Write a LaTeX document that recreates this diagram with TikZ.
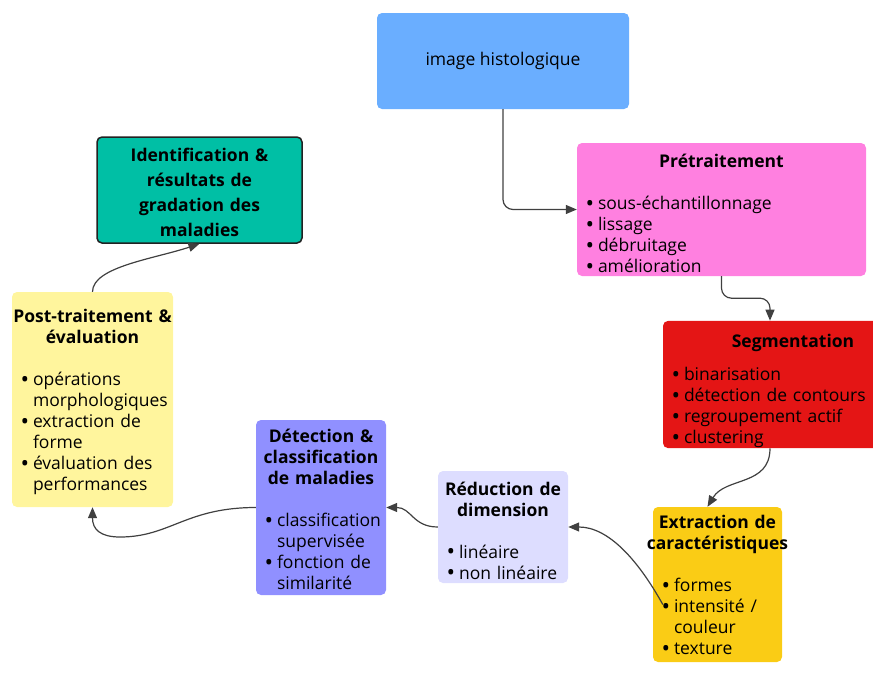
\documentclass[tikz,border=0pt]{standalone}
\usepackage{fontspec}
\setmainfont{Open Sans}
\usetikzlibrary{arrows.meta}
\definecolor{imgblue}{RGB}{106,174,255}
\definecolor{prepink}{RGB}{255,128,224}
\definecolor{segred}{RGB}{228,21,21}
\definecolor{extyellow}{RGB}{250,204,21}
\definecolor{redlav}{RGB}{221,221,255}
\definecolor{detpurple}{RGB}{144,144,255}
\definecolor{postyellow}{RGB}{255,245,157}
\definecolor{identteal}{RGB}{0,191,165}
\definecolor{edgegray}{RGB}{34,34,34}
\definecolor{arrgray}{RGB}{64,64,64}
\newcommand{\bul}[1]{\makebox[11pt][l]{\hspace*{-1.5pt}\raisebox{-0.12ex}{\scalebox{1.3}{\textbullet}}}\mbox{#1}}
\newcommand{\cnt}[1]{\hspace*{11pt}\mbox{#1}}
\newcommand{\ttl}[1]{\makebox[\linewidth][c]{\bfseries #1}}
\newcommand{\padtop}[1]{\rule{0pt}{#1}}
\tikzset{
  box/.style  = {rectangle, rounded corners=5pt, inner xsep=10pt, inner ysep=0pt,
                 align=left, font=\fontsize{17.5}{21}\selectfont},
  arr/.style  = {-{Triangle[length=11pt,width=9pt]}, line width=1.2pt, draw=arrgray}
}

\begin{document}
\begin{tikzpicture}[x=1pt,y=-1pt]
  \useasboundingbox (0,0) rectangle (873,675);
  \node[box,fill=imgblue,align=center,minimum width=252pt,minimum height=96pt] (img) at (503,61) {image histologique};
  \node[box,fill=prepink,text width=269pt,minimum height=133pt] (pre) at (721.5,209.5)
    {\padtop{23pt}\ttl{Prétraitement}\\[21pt]
     \bul{sous-échantillonnage}\\ \bul{lissage}\\ \bul{débruitage}\\ \bul{amélioration}};
  \node[box,fill=segred,text width=240pt,minimum height=125pt] (seg) at (793,384.5)
    {\padtop{27pt}\ttl{Segmentation}\\[12pt]
     \bul{binarisation}\\ \bul{détection de contours}\\ \bul{regroupement actif}\\ \bul{clustering}};
  \node[box,fill=extyellow,text width=109pt,minimum height=155pt] (ext) at (717.5,584.5)
    {\padtop{16pt}\ttl{Extraction de}\\ \ttl{caractéristiques}\\[21pt]
     \bul{formes}\\ \bul{intensité /}\\ \cnt{couleur}\\ \bul{texture}};
  \node[box,fill=redlav,text width=110pt,minimum height=112pt] (red) at (503,527)
    {\padtop{22pt}\ttl{Réduction de}\\ \ttl{dimension}\\[21pt]
     \bul{linéaire}\\ \bul{non linéaire}};
  \node[box,fill=detpurple,text width=110pt,minimum height=175pt] (det) at (321,507.5)
    {\padtop{18pt}\ttl{Détection \&}\\ \ttl{classification}\\ \ttl{de maladies}\\[21pt]
     \bul{classification}\\ \cnt{supervisée}\\ \bul{fonction de}\\ \cnt{similarité}};
  \node[box,fill=postyellow,text width=141pt,minimum height=215pt] (post) at (92.5,399.5)
    {\padtop{19pt}\ttl{Post-traitement \&}\\ \ttl{évaluation}\\[21pt]
     \bul{opérations}\\ \cnt{morphologiques}\\ \bul{extraction de}\\ \cnt{forme}\\
     \bul{évaluation des}\\ \cnt{performances}};
  \node[box,fill=identteal,draw=edgegray,line width=1.5pt,align=center,text width=185pt,
        minimum height=106pt,font=\fontsize{17.5}{25}\selectfont\bfseries] (ident) at (199.5,190)
    {\padtop{19pt}Identification \&\\ résultats de\\ gradation des\\ maladies};
  % connectors
  \draw[arr,rounded corners=10pt] (img.south) |- (pre.west);
  \draw[arr,rounded corners=10pt] (pre.south) -- ++(0,22) -| ([xshift=-23pt]seg.north);
  \draw[arr] ([xshift=-23pt]seg.south) .. controls +(0,38) and +(18,-30) .. ([xshift=-10pt]ext.north);
  \draw[arr] ([shift={(10pt,-20pt)}]ext.west) .. controls +(-25,-45) and +(40,0) .. (red.east);
  \draw[arr] (red.west) .. controls +(-25,0) and +(25,0) .. (det.east);
  \coordinate (low) at (120,537);
  \draw[arr] (det.west) .. controls +(-70,0) and +(50,0) .. (low) .. controls +(-20,0) and +(0,22) .. (post.south);
  \draw[arr] (post.north) .. controls +(0,-25) and +(-45,15) .. (ident.south);
\end{tikzpicture}
\end{document}
